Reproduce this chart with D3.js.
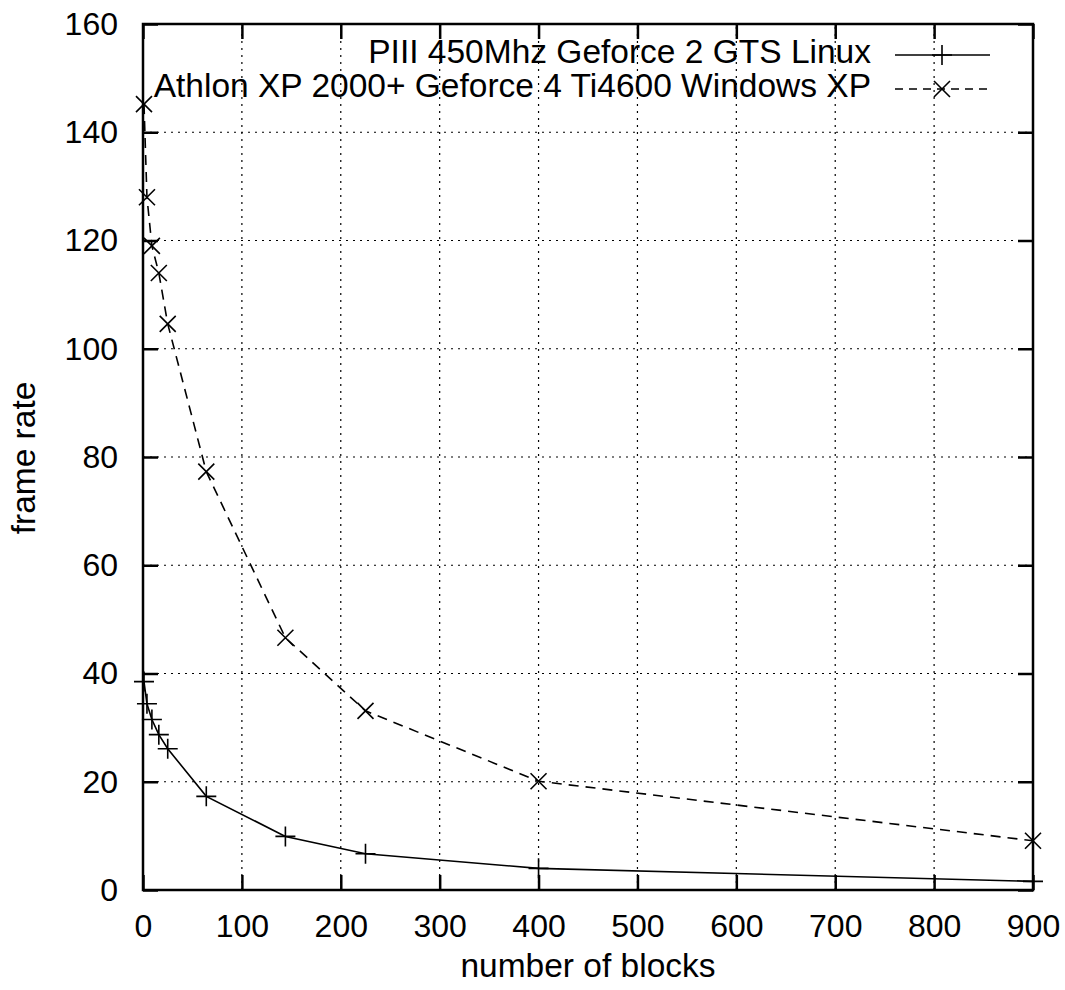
<!DOCTYPE html>
<html>
  <head>
  <title>frame rate vs number of blocks</title>
  </head>
  <body>

  <svg id="svg" width="1065" height="990"></svg>

  <script src="https://d3js.org/d3.v7.min.js"></script>
  <script>
        // number of blocks (squares: 1x1 ... 30x30)
        const blocks = [1, 4, 9, 16, 25, 64, 144, 225, 400, 900]
        const piiiRate = [38.5, 34.4, 31.5, 28.7, 26.1, 17.3, 9.9, 6.7, 4.0, 1.6]
        const athlonRate = [145.2, 128, 119, 114, 104.6, 77.3, 46.6, 33.1, 20.1, 9.1]
        const xTicks = [0, 100, 200, 300, 400, 500, 600, 700, 800, 900]
        const yTicks = [0, 20, 40, 60, 80, 100, 120, 140, 160]
        const piiiLabel = 'PIII 450Mhz Geforce 2 GTS Linux'
        const athlonLabel = 'Athlon XP 2000+ Geforce 4 Ti4600 Windows XP'

        const font = '"Liberation Sans", Arial, Helvetica, sans-serif'
        const plotLeft = 143, plotRight = 1033, plotTop = 24, plotBottom = 890

        const svg = d3.select('#svg')
        const xscale = d3.scaleLinear().domain([0, 900]).range([plotLeft, plotRight])
        const yscale = d3.scaleLinear().domain([0, 160]).range([plotBottom, plotTop])

        // grid
        const grid = svg.append('g')
            .attr('stroke', '#000')
            .attr('stroke-width', 1.2)
            .attr('stroke-dasharray', '2,5')
        grid.selectAll('.gx').data(xTicks.slice(1, -1)).join('line')
            .attr('x1', d => xscale(d)).attr('x2', d => xscale(d))
            .attr('y1', plotBottom).attr('y2', plotTop)
        grid.selectAll('.gy').data(yTicks.slice(1, -1)).join('line')
            .attr('y1', d => yscale(d)).attr('y2', d => yscale(d))
            .attr('x1', plotLeft).attr('x2', plotRight)

        // axes with inward ticks, mirrored
        const tickLen = 15
        const axisStyle = g => {
            g.select('.domain').remove()
            g.selectAll('.tick line').attr('stroke', '#000').attr('stroke-width', 2.5)
            g.selectAll('text').attr('font-family', font).attr('font-size', 32).attr('fill', '#000')
        }
        svg.append('g').attr('transform', `translate(0,${plotBottom})`)
            .call(d3.axisBottom(xscale).tickValues(xTicks).tickSize(-tickLen).tickPadding(24).tickFormat(d3.format('d')))
            .call(axisStyle)
        svg.append('g').attr('transform', `translate(0,${plotTop})`)
            .call(d3.axisTop(xscale).tickValues(xTicks).tickSize(-tickLen).tickFormat(''))
            .call(axisStyle)
        svg.append('g').attr('transform', `translate(${plotLeft},0)`)
            .call(d3.axisLeft(yscale).tickValues(yTicks).tickSize(-tickLen).tickPadding(25).tickFormat(d3.format('d')))
            .call(axisStyle)
        svg.append('g').attr('transform', `translate(${plotRight},0)`)
            .call(d3.axisRight(yscale).tickValues(yTicks).tickSize(-tickLen).tickFormat(''))
            .call(axisStyle)

        // frame
        svg.append('rect')
            .attr('x', plotLeft).attr('y', plotTop)
            .attr('width', plotRight - plotLeft).attr('height', plotBottom - plotTop)
            .attr('fill', 'none').attr('stroke', '#000').attr('stroke-width', 2.5)

        const linegen = d3.line()
            .x(d => xscale(d[0]))
            .y(d => yscale(d[1]))

        const piii = blocks.map((b, i) => [b, piiiRate[i]])
        const athlon = blocks.map((b, i) => [b, athlonRate[i]])

        const plusPath = (x, y, r) => `M${x - r},${y}H${x + r}M${x},${y - r}V${y + r}`
        const crossPath = (x, y, r) => `M${x - r},${y - r}L${x + r},${y + r}M${x - r},${y + r}L${x + r},${y - r}`

        // PIII series
        svg.append('path')
            .attr('d', linegen(piii))
            .attr('fill', 'none').attr('stroke', '#000').attr('stroke-width', 1.6)
        svg.append('g').selectAll('path').data(piii).join('path')
            .attr('d', d => plusPath(xscale(d[0]), yscale(d[1]), 10))
            .attr('stroke', '#000').attr('stroke-width', 1.6)

        // Athlon series
        svg.append('path')
            .attr('d', linegen(athlon))
            .attr('fill', 'none').attr('stroke', '#000').attr('stroke-width', 1.6)
            .attr('stroke-dasharray', '10,7')
        svg.append('g').selectAll('path').data(athlon).join('path')
            .attr('d', d => crossPath(xscale(d[0]), yscale(d[1]), 8))
            .attr('stroke', '#000').attr('stroke-width', 1.6)

        // legend
        const legend = svg.append('g')
        const legendRows = [
            {label: piiiLabel, y: 55, dash: null, marker: plusPath, r: 10},
            {label: athlonLabel, y: 89, dash: '8,6', marker: crossPath, r: 8}
        ]
        legendRows.forEach(row => {
            legend.append('text')
                .attr('x', 871).attr('y', row.y + 8)
                .attr('text-anchor', 'end')
                .attr('font-family', font).attr('font-size', 33.5)
                .text(row.label)
            legend.append('line')
                .attr('x1', 895).attr('x2', 990)
                .attr('y1', row.y).attr('y2', row.y)
                .attr('stroke', '#000').attr('stroke-width', 1.6)
                .attr('stroke-dasharray', row.dash)
            legend.append('path')
                .attr('d', row.marker(942, row.y, row.r))
                .attr('stroke', '#000').attr('stroke-width', 1.6)
        })

        // axis titles
        svg.append('text')
            .attr('x', (plotLeft + plotRight) / 2).attr('y', 977)
            .attr('text-anchor', 'middle')
            .attr('font-family', font).attr('font-size', 33.5)
            .text('number of blocks')
        svg.append('text')
            .attr('transform', `translate(35,458) rotate(-90)`)
            .attr('text-anchor', 'middle')
            .attr('font-family', font).attr('font-size', 33.5)
            .text('frame rate')
  </script>
  <style>
    body, html {
      margin: 0;
      padding: 0;
      background: #fff;
    }
  </style>
  </body>
</html>
